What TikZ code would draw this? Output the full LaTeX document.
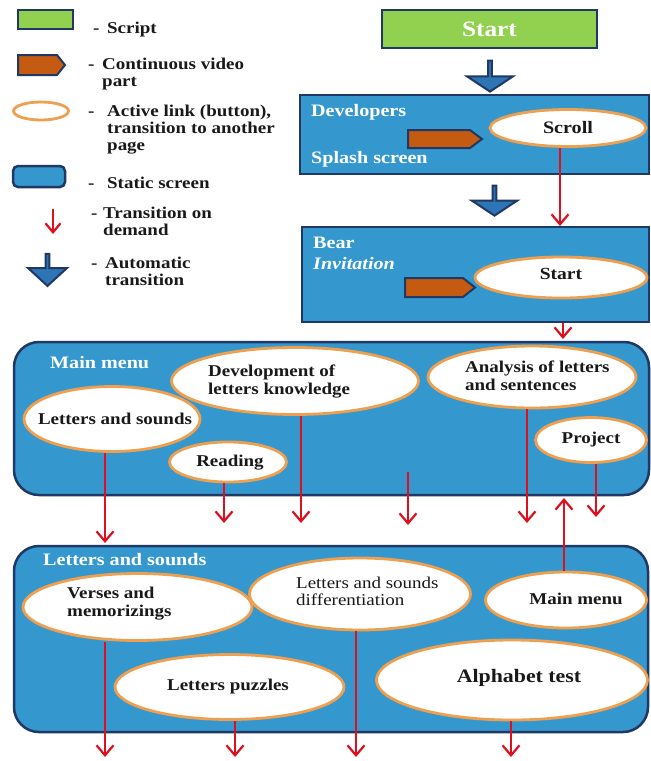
\documentclass[tikz,border=0pt]{standalone}
\usepackage{fontspec}
\setmainfont{Liberation Serif}[FakeStretch=1.15]
\usetikzlibrary{shapes.geometric,shapes.arrows,arrows.meta}
\definecolor{boxblue}{RGB}{52,152,207}
\definecolor{navy}{RGB}{31,56,100}
\definecolor{btnorange}{RGB}{238,160,80}
\definecolor{vidorange}{RGB}{197,90,17}
\definecolor{scriptgreen}{RGB}{146,208,80}
\definecolor{arrowred}{RGB}{222,16,30}
\definecolor{blockblue}{RGB}{46,117,182}
\definecolor{inktext}{RGB}{25,25,25}
\tikzset{
  screenbox/.style={draw=navy, line width=2.5pt, fill=boxblue, inner sep=0pt},
  scriptbox/.style={draw=navy, line width=2.5pt, fill=scriptgreen, inner sep=0pt},
  btn/.style={ellipse, draw=btnorange, line width=2.8pt, fill=white, inner sep=0pt},
  vid/.style={draw=navy, line width=2pt, fill=vidorange, line join=miter},
  req/.style={draw=arrowred, line width=2.2pt, -{Straight Barb[length=10pt,width=17pt]}},
  autoarrow/.style={single arrow, draw=navy, line width=2pt, fill=blockblue, rotate=-90,
    inner sep=0pt, minimum height=31pt, minimum width=46pt,
    single arrow head extend=12pt, single arrow tip angle=113},
  lbl/.style={font=\fontsize{16.5}{17}\selectfont\bfseries, text=inktext, inner sep=0pt, anchor=west},
  ttl/.style={font=\fontsize{17.5}{18}\selectfont\bfseries, text=white, inner sep=0pt, anchor=west},
  btntext/.style={font=\fontsize{16.5}{18}\selectfont\bfseries, text=inktext, inner sep=0pt, align=left},
}
\newcommand{\legdash}[1]{\makebox[#1][l]{-}}
\begin{document}
\begin{tikzpicture}[x=1pt,y=-1pt]
\useasboundingbox[fill=white] (0,0) rectangle (651,761);

% ---------------- legend ----------------
\node[scriptbox, minimum width=55pt, minimum height=19pt] (lg1) at (45.5,19.5) {};
\draw[vid] (18,55) -- (57,55) -- (65,65) -- (57,75) -- (18,75) -- cycle;
\node[btn, minimum width=55pt, minimum height=18pt] (lg3) at (41,111) {};
\node[screenbox, rounded corners=5pt, minimum width=52pt, minimum height=21pt] (lg4) at (39,176.5) {};
\coordinate (lg5a) at (53,209);
\coordinate (lg5b) at (53,234);
\draw[req, -{Straight Barb[length=9pt,width=15pt]}] (lg5a) -- (lg5b);
\node[autoarrow, minimum height=32pt, minimum width=39pt, single arrow head extend=9pt, single arrow tip angle=95] (lg6) at (47.5,269) {};

\node[lbl] (t1) at (93,30) {\legdash{14pt}Script};
\node[lbl] (t2) at (88,74.5) {\begin{tabular}{@{}l@{}l@{}}\legdash{14pt}&Continuous video\\&part\end{tabular}};
\node[lbl] (t3) at (88,130) {\begin{tabular}{@{}l@{}l@{}}\legdash{19pt}&Active link (button),\\&transition to another\\&page\end{tabular}};
\node[lbl] (t4) at (88,183) {\legdash{19pt}Static screen};
\node[lbl] (t5) at (91,223.5) {\begin{tabular}{@{}l@{}l@{}}\legdash{12pt}&Transition on\\&demand\end{tabular}};
\node[lbl] (t6) at (91,273.5) {\begin{tabular}{@{}l@{}l@{}}\legdash{14pt}&Automatic\\&transition\end{tabular}};

% ---------------- top flow ----------------
\node[scriptbox, minimum width=215pt, minimum height=38pt,
      font=\fontsize{22}{24}\selectfont\bfseries, text=white] (start) at (489.5,29) {Start};
\node[autoarrow] (ba1) at (490,75.5) {};

\node[screenbox, minimum width=349pt, minimum height=79pt] (dev1) at (474.5,134.5) {};
\node[ttl] at (311,112) {Developers};
\node[ttl] at (311,159) {Splash screen};
\draw[vid] (408,130) -- (470,130) -- (482,139) -- (470,148) -- (408,148) -- cycle;
\node[btn, minimum width=156pt, minimum height=37pt] (scroll) at (568,128) {};
\node[btntext, font=\fontsize{17.5}{18}\selectfont\bfseries] at (scroll) {Scroll};

\node[autoarrow, minimum height=30pt, minimum width=45pt, single arrow head extend=11pt] (ba2) at (494.5,200) {};

\node[screenbox, minimum width=347pt, minimum height=95pt] (bear) at (475.5,274.5) {};
\node[ttl] at (313,243) {Bear};
\node[ttl, font=\fontsize{17.5}{18}\selectfont\bfseries\itshape] at (313,264) {Invitation};
\draw[vid] (405,278) -- (463,278) -- (475,287.5) -- (463,297) -- (405,297) -- cycle;
\node[btn, minimum width=172pt, minimum height=41pt] (startb) at (561,277.5) {};
\node[btntext, font=\fontsize{17}{18}\selectfont\bfseries] at (561,274) {Start};

\coordinate (e11) at (560,226);
\draw[req] (scroll.south -| e11) -- (e11);

% ---------------- main menu ----------------
\node[screenbox, rounded corners=25pt, minimum width=635pt, minimum height=153pt] (main) at (331.5,418.5) {};
\node[ttl] at (50,363) {Main menu};
\coordinate (e10) at (563,339);
\draw[req] (bear.south -| e10) -- (e10);

\node[btn, minimum width=176pt, minimum height=65pt] (lsm) at (112,419) {};
\node[btntext] at (115,419) {Letters and sounds};
\node[btn, minimum width=247pt, minimum height=67pt] (devk) at (295,381) {};
\node[btntext, anchor=west] at (208,382) {Development of\\letters knowledge};
\node[btn, minimum width=117pt, minimum height=40pt] (read) at (228,462) {};
\node[btntext] at (230,463) {Reading};
\node[btn, minimum width=208pt, minimum height=62pt] (anal) at (532,377) {};
\node[btntext, anchor=west] at (465,376) {Analysis of letters\\and sentences};
\node[btn, minimum width=111pt, minimum height=45pt] (proj) at (591,440) {};
\node[btntext] at (591,440) {Project};

\coordinate (e0) at (105,543);
\coordinate (e1) at (301,523);
\coordinate (e2) at (224,523);
\coordinate (s3a) at (408,472);
\coordinate (s3b) at (408,525);
\coordinate (e4) at (527,523);
\coordinate (e5) at (596,517);
\draw[req] ([xshift=-7pt]lsm.south) -- (e0);
\draw[req] (devk.south -| e1) -- (e1);
\draw[req] (read.south -| e2) -- (e2);
\draw[req] (s3a) -- (s3b);
\draw[req] (anal.south -| e4) -- (e4);
\draw[req] (proj.south -| e5) -- (e5);

% ---------------- letters and sounds ----------------
\node[screenbox, rounded corners=25pt, minimum width=634pt, minimum height=186pt] (lsbox) at (331,639) {};
\node[ttl] at (43,560) {Letters and sounds};

\node[btn, minimum width=229pt, minimum height=67pt] (verses) at (137.5,607) {};
\node[btntext, anchor=west] at (67,604) {Verses and\\memorizings};
\node[btn, minimum width=221pt, minimum height=72pt] (diff) at (360,594) {};
\node[btntext, anchor=west, font=\fontsize{16.5}{17}\selectfont] at (296,591.5) {Letters and sounds\\differentiation};
\node[btn, minimum width=161pt, minimum height=56pt] (mm) at (566,600) {};
\node[btntext] at (576,599) {Main menu};
\node[btn, minimum width=229pt, minimum height=65pt] (puzz) at (229.5,687) {};
\node[btntext] at (228,687) {Letters puzzles};
\node[btn, minimum width=271pt, minimum height=80pt] (alpha) at (512,680) {};
\node[btntext, font=\fontsize{19}{20}\selectfont\bfseries] at (519,678) {Alphabet test};

\coordinate (u1) at (564,498);
\draw[req] (mm.north -| u1) -- (u1);
\coordinate (e6) at (105,757);
\coordinate (e7) at (235,757);
\coordinate (e8) at (356,757);
\coordinate (e9) at (511,757);
\draw[req] (verses.south -| e6) -- (e6);
\draw[req] (puzz.south -| e7) -- (e7);
\draw[req] (diff.south -| e8) -- (e8);
\draw[req] (alpha.south -| e9) -- (e9);
\end{tikzpicture}
\end{document}
